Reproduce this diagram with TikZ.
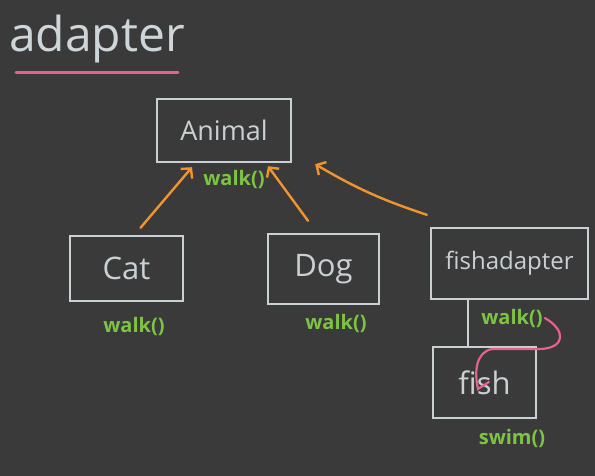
\documentclass[tikz,border=0pt]{standalone}
\usepackage{fontspec}
\setmainfont{Open Sans}
\usepackage{tikz}
\usetikzlibrary{arrows.meta, positioning}
\definecolor{board}{HTML}{3A3A3A}
\definecolor{chalk}{HTML}{C9D1D5}
\definecolor{orangechalk}{HTML}{F0952E}
\definecolor{greenchalk}{HTML}{7DC443}
\definecolor{pinkchalk}{HTML}{E4628C}
\begin{document}
\begin{tikzpicture}[x=1pt, y=-1pt,
		classbox/.style={draw=chalk, line width=2.4pt, text=chalk, minimum width=#1, inner sep=0pt,
			font=\fontsize{31}{33}\selectfont},
		method/.style={text=greenchalk, inner sep=0pt, font=\fontsize{20}{22}\selectfont\bfseries},
		inherit/.style={->, draw=orangechalk, line width=2.4pt, line cap=round},
		>={Straight Barb[length=7pt, width=15pt]}]
		% Tafel
		\fill[board] (0,0) rectangle (595,476);
		\useasboundingbox (0,0) rectangle (595,476);
		% Titel
		\node[text=chalk!90!white, anchor=base west, inner sep=0pt, font=\fontsize{48}{50}\selectfont] (title) at (9,52) {adapter};
		\draw[pinkchalk, line width=3pt, line cap=round] (16,73) -- (178,73);
		% Klassen
		\node[classbox=134pt, minimum height=63pt, font=\fontsize{27}{29}\selectfont] (animal) at (224,130.5) {Animal};
		\node[classbox=113pt, minimum height=65pt] (cat) at (126.5,268.5) {Cat};
		\node[classbox=111pt, minimum height=70pt] (dog) at (323.5,269) {Dog};
		\node[classbox=157pt, minimum height=71pt, font=\fontsize{24}{26}\selectfont] (fishadapter) at (509.5,263.5) {fishadapter};
		\node[classbox=103pt, minimum height=71pt] (fish) at (484.5,382.5) {fish};
		% Methoden
		\node[method] (walkanimal) at (234,179) {walk()};
		\node[method] (walkcat) at (134,326) {walk()};
		\node[method] (walkdog) at (336,323) {walk()};
		\node[method] (walkfa) at (512,318) {walk()};
		\node[method] (swimfish) at (512,438) {swim()};
		% Vererbung
		\draw[inherit] ([xshift=14pt,yshift=7pt]cat.north) -- ([xshift=-32pt,yshift=-4pt]animal.south);
		\draw[inherit] ([xshift=-15.5pt,yshift=12pt]dog.north) -- ([xshift=44pt,yshift=-3pt]animal.south);
		\draw[inherit] ([xshift=-3pt,yshift=12pt]fishadapter.north west) to[bend left=6] ([xshift=23pt,yshift=-1pt]animal.south east);
		% Adapter haelt fish
		\draw[chalk, line width=2.4pt] ([xshift=-41.5pt]fishadapter.south) -- ([xshift=-41.5pt]fishadapter.south |- fish.north);
		\draw[pinkchalk, line width=2.2pt, line cap=round] ([xshift=2pt]walkfa.east) .. controls (566,330) and (566,348) .. (540,349)
			-- (492,349) .. controls (476,352) and (474,372) .. (478,389) -- (489,382);
	\end{tikzpicture}
\end{document}
